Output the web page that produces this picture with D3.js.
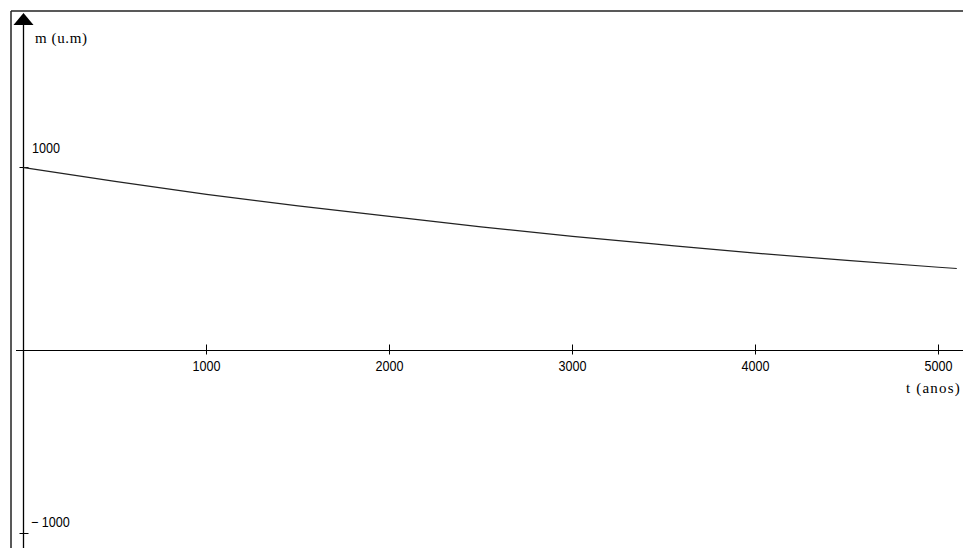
<!DOCTYPE html>
<html>
<head>
<meta charset="utf-8">
<script src="https://cdn.jsdelivr.net/npm/d3@7"></script>
<style>
  html, body { margin: 0; padding: 0; background: #fff; }
  svg { display: block; }
  text { fill: #000; }
</style>
</head>
<body>
<svg id="chart" width="963" height="548"></svg>
<script>
// Data
const times  = [0, 500, 1000, 1500, 2000, 2500, 3000, 3500, 4000, 4500, 5000, 5100];
const masses = [1000, 924, 853, 790, 733, 676, 624, 577, 532, 492, 455, 448];
const xTicks = [1000, 2000, 3000, 4000, 5000];
const yTicks = [1000, -1000];
const xLabel = "t (anos)";
const yLabel = "m (u.m)";

const svg = d3.select("#chart");
const x = d3.scaleLinear().domain([0, 1000]).range([23.5, 206.5]);
const y = d3.scaleLinear().domain([0, 1000]).range([350.5, 167.5]);

// frame
svg.append("line").attr("x1", 11).attr("x2", 963).attr("y1", 11).attr("y2", 11)
  .attr("stroke", "#222").attr("stroke-width", 1.5);
svg.append("line").attr("x1", 11).attr("x2", 11).attr("y1", 11).attr("y2", 548)
  .attr("stroke", "#222").attr("stroke-width", 1.5);

// x axis
svg.append("line").attr("x1", 16).attr("x2", 963).attr("y1", y(0)).attr("y2", y(0))
  .attr("stroke", "#000").attr("stroke-width", 1);
// y axis
svg.append("line").attr("x1", x(0)).attr("x2", x(0)).attr("y1", 24).attr("y2", 548)
  .attr("stroke", "#000").attr("stroke-width", 1.3);
// arrow head
svg.append("path")
  .attr("d", `M${x(0)},13 L${x(0)+10},25 L${x(0)-10},25 Z`)
  .attr("fill", "#000");

// x ticks
const xt = svg.append("g");
xTicks.forEach(t => {
  xt.append("line").attr("x1", x(t)).attr("x2", x(t))
    .attr("y1", y(0) - 6).attr("y2", y(0) + 4)
    .attr("stroke", "#000");
  xt.append("text").attr("x", x(t)).attr("y", 371)
    .attr("text-anchor", "middle")
    .attr("font-family", "Liberation Sans, Arial, sans-serif")
    .attr("font-size", 14)
    .attr("transform", `translate(${x(t)},0) scale(0.9,1) translate(${-x(t)},0)`)
    .text(t);
});

// y ticks
yTicks.forEach(v => {
  svg.append("line").attr("x1", x(0) - 4).attr("x2", x(0) + 5)
    .attr("y1", y(v)).attr("y2", y(v)).attr("stroke", "#000");
});
svg.append("text").attr("x", 32).attr("y", 153)
  .attr("font-family", "Liberation Sans, Arial, sans-serif").attr("font-size", 14)
  .attr("transform", "translate(32,0) scale(0.9,1) translate(-32,0)")
  .text(yTicks[0]);
svg.append("text").attr("x", 31).attr("y", 527)
  .attr("font-family", "Liberation Sans, Arial, sans-serif").attr("font-size", 14)
  .attr("transform", "translate(31,0) scale(0.9,1) translate(-31,0)")
  .text("\u2212 " + Math.abs(yTicks[1]));

// axis labels
svg.append("text").attr("x", 35).attr("y", 43)
  .attr("font-family", "Liberation Serif, Times New Roman, serif").attr("font-size", 15)
  .attr("letter-spacing", 0.6)
  .text(yLabel);
svg.append("text").attr("x", 961).attr("y", 393).attr("text-anchor", "end")
  .attr("font-family", "Liberation Serif, Times New Roman, serif").attr("font-size", 15)
  .attr("letter-spacing", 1.2)
  .text(xLabel);

// curve
const line = d3.line().x((d, i) => x(times[i])).y(d => y(d)).curve(d3.curveMonotoneX);
svg.append("path").datum(masses)
  .attr("d", line)
  .attr("fill", "none")
  .attr("stroke", "#222")
  .attr("stroke-width", 1.2);
</script>
</body>
</html>
